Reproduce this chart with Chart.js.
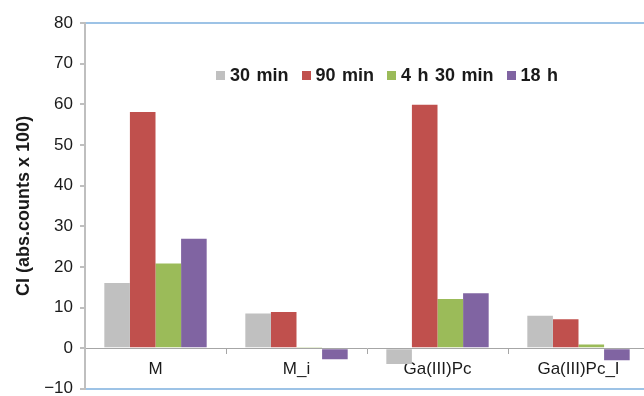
<!DOCTYPE html>
<html>
<head>
<meta charset="utf-8">
<script src="https://cdn.jsdelivr.net/npm/chart.js@4/dist/chart.umd.min.js"></script>
<style>
  html, body { margin: 0; padding: 0; background: #fff; overflow: hidden; width: 644px; height: 396px; }
  #wrap { position: relative; width: 652px; height: 406px; }
  #legend { position: absolute; left: 216px; top: 65px; display: flex; align-items: center;
            font-family: "Liberation Sans", Arial, sans-serif; font-weight: bold; font-size: 18px; color: #1a1a1a;
            white-space: nowrap; word-spacing: 1.5px; }
  #legend .item { display: flex; align-items: center; margin-right: 13px; }
  #legend .box { width: 9px; height: 9px; margin-right: 5px; }
</style>
</head>
<body>
<div id="wrap">
  <canvas id="c" width="652" height="406"></canvas>
  <div id="legend"></div>
</div>
<script>
const categories = ["M", "M_i", "Ga(III)Pc", "Ga(III)Pc_I"];
const seriesNames = ["30 min", "90 min", "4 h 30 min", "18 h"];
const s30min = [16.0, 8.5, -3.9, 8.0];
const s90min = [58.1, 8.9, 59.9, 7.1];
const s4h30 = [20.8, 0.3, 12.1, 0.9];
const s18h = [26.9, -2.7, 13.5, -3.0];
const colors = ["#c0c0c0", "#c0504d", "#9bbb59", "#8064a2"];
const yTitle = "CI (abs.counts x 100)";
const yMin = -10, yMax = 80, yStep = 10;

const seriesValues = [s30min, s90min, s4h30, s18h];
const datasets = seriesNames.map((n, i) => ({
  label: n,
  data: seriesValues[i],
  backgroundColor: colors[i],
  borderWidth: 0,
  barPercentage: 1.0,
  categoryPercentage: 0.726
}));

const FONT = "'Liberation Sans', Arial, sans-serif";

new Chart(document.getElementById('c'), {
  type: 'bar',
  data: { labels: categories, datasets },
  options: {
    responsive: false,
    animation: false,
    devicePixelRatio: 1,
    layout: { padding: { top: 23, right: 3, bottom: 0, left: 0 } },
    plugins: { legend: { display: false }, tooltip: { enabled: false } },
    scales: {
      x: {
        position: { y: 0 },
        grid: { offset: true, drawOnChartArea: false, drawTicks: true, tickLength: 5, tickColor: '#a6a6a6', lineWidth: 1 },
        border: { color: '#a6a6a6', width: 1 },
        ticks: { font: { family: FONT, size: 17 }, color: '#1a1a1a', padding: 6, maxRotation: 0 },
        afterFit: s => { s.height = 0; }
      },
      y: {
        min: yMin, max: yMax,
        ticks: { stepSize: yStep, font: { family: FONT, size: 17 }, color: '#1a1a1a', padding: 7,
                 callback: v => (v < 0 ? '\u2212' + Math.abs(v) : String(v)) },
        grid: {
          color: ctx => (ctx.tick && (ctx.tick.value === yMax || ctx.tick.value === yMin)) ? '#9dc3e6' : 'rgba(0,0,0,0)',
          lineWidth: 2,
          tickColor: '#bfbfbf', tickLength: 5, drawTicks: true
        },
        border: { color: '#bfbfbf', width: 2 },
        title: { display: true, text: yTitle, font: { family: FONT, size: 18, weight: 'bold' }, color: '#1a1a1a', padding: { top: 13, bottom: 0 } },
        afterFit: s => { s.width = 85; }
      }
    }
  }
});

const lg = document.getElementById('legend');
seriesNames.forEach((n, i) => {
  const it = document.createElement('div'); it.className = 'item';
  const b = document.createElement('span'); b.className = 'box'; b.style.background = colors[i];
  const t = document.createElement('span'); t.textContent = n;
  it.appendChild(b); it.appendChild(t); lg.appendChild(it);
});
</script>
</body>
</html>
